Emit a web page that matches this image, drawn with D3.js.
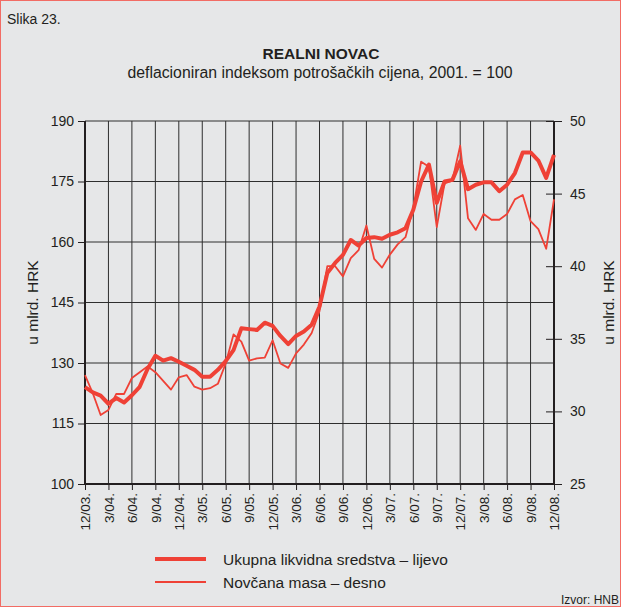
<!DOCTYPE html>
<html>
<head>
<meta charset="utf-8">
<script src="https://cdn.jsdelivr.net/npm/d3@7"></script>
<style>
  body { margin: 0; background: #e6e7e8; }
  svg { display: block; font-family: "Liberation Sans", Arial, sans-serif; }
</style>
</head>
<body>
<svg id="chart" width="621" height="607"></svg>
<script>
// Quarter labels on the x axis (every 3rd month, 12/03 .. 12/08)
const quarterLabels = ["12/03.", "3/04.", "6/04.", "9/04.", "12/04.", "3/05.", "6/05.", "9/05.",
  "12/05.", "3/06.", "6/06.", "9/06.", "12/06.", "3/07.", "6/07.", "9/07.", "12/07.",
  "3/08.", "6/08.", "9/08.", "12/08."];

// Ukupna likvidna sredstva (left axis), monthly
const ukupna = [124.0, 122.7, 121.9, 119.9, 121.3, 120.2, 122.0, 124.1, 128.5, 131.8,
  130.6, 131.2, 130.3, 129.3, 128.3, 126.6, 126.6, 128.3, 130.5, 133.2,
  138.6, 138.4, 138.2, 140.0, 139.2, 136.7, 134.7, 136.7, 137.8, 139.5,
  144.0, 152.3, 154.8, 156.8, 160.5, 159.1, 161.0, 161.2, 160.8, 161.8,
  162.4, 163.4, 168.0, 175.0, 179.2, 169.7, 175.0, 175.4, 180.0, 173.1,
  174.2, 174.8, 174.8, 172.6, 174.2, 177.1, 182.2, 182.2, 180.2, 175.9,
  181.6];

// Novčana masa (right axis), monthly
const novcana = [32.5, 31.25, 29.75, 30.1, 31.2, 31.2, 32.3, 32.7, 33.1, 32.7,
  32.1, 31.5, 32.35, 32.5, 31.7, 31.5, 31.6, 31.9, 33.3, 35.3,
  34.8, 33.5, 33.65, 33.7, 34.9, 33.3, 33.0, 34.0, 34.6, 35.4,
  36.9, 40.0, 40.0, 39.3, 40.55, 41.1, 42.8, 40.5, 39.9, 40.8,
  41.5, 42.0, 44.0, 47.2, 46.85, 42.7, 45.7, 45.9, 48.3, 43.3,
  42.5, 43.6, 43.2, 43.2, 43.6, 44.6, 44.9, 43.1, 42.55, 41.2,
  44.6];

const leftTicks = [100, 115, 130, 145, 160, 175, 190];
const rightTicks = [25, 30, 35, 40, 45, 50];

const red = "#ef4136";
const ink = "#231f20";

const svg = d3.select("#chart");

svg.append("rect")
  .attr("x", 0.5).attr("y", 0.5)
  .attr("width", 620).attr("height", 606)
  .attr("fill", "#e6e7e8")
  .attr("stroke", "#f26c64");

const plotL = 85, plotR = 554, plotT = 121, plotB = 484;

const x = d3.scaleLinear().domain([0, ukupna.length - 1]).range([plotL, plotR]);
const yL = d3.scaleLinear().domain([100, 190]).range([plotB, plotT]);
const yR = d3.scaleLinear().domain([25, 50]).range([plotB, plotT]);

// titles
svg.append("text").attr("x", 7).attr("y", 24)
  .attr("font-size", 14).attr("fill", ink).text("Slika 23.");
svg.append("text").attr("x", 321).attr("y", 59)
  .attr("text-anchor", "middle").attr("font-size", 15.5).attr("font-weight", "bold")
  .attr("fill", ink).text("REALNI NOVAC");
svg.append("text").attr("x", 320).attr("y", 78)
  .attr("text-anchor", "middle").attr("font-size", 15.8)
  .attr("fill", ink).text("deflacioniran indeksom potrošačkih cijena, 2001. = 100");

// grid
const grid = svg.append("g").attr("stroke", "#2e2e2e").attr("stroke-width", 1);
grid.selectAll("line.h")
  .data(leftTicks.slice(1))
  .join("line")
  .attr("class", "h")
  .attr("x1", plotL).attr("x2", plotR)
  .attr("y1", d => yL(d)).attr("y2", d => yL(d));
grid.selectAll("line.v")
  .data(d3.range(3, ukupna.length - 1, 3))
  .join("line")
  .attr("class", "v")
  .attr("x1", d => x(d)).attr("x2", d => x(d))
  .attr("y1", plotT).attr("y2", plotB);

// left axis
const gL = svg.append("g").attr("transform", `translate(${plotL},0)`)
  .call(d3.axisLeft(yL).tickValues(leftTicks).tickSize(7).tickPadding(4));
gL.select(".domain").remove();
gL.attr("font-family", null);
gL.selectAll("line").attr("stroke", ink);
gL.selectAll("text").attr("font-size", 14).attr("fill", ink);

// right axis
const gR = svg.append("g").attr("transform", `translate(${plotR},0)`)
  .call(d3.axisRight(yR).tickValues(rightTicks).tickSize(8).tickPadding(8));
gR.select(".domain").remove();
gR.attr("font-family", null);
gR.selectAll("line").attr("stroke", ink).attr("x1", -8);
gR.selectAll("text").attr("font-size", 14).attr("fill", ink);

// bottom axis
const gB = svg.append("g").attr("transform", `translate(0,${plotB})`)
  .call(d3.axisBottom(x).tickValues(d3.range(0, ukupna.length, 3))
    .tickFormat((d, i) => quarterLabels[i]).tickSize(6));
gB.select(".domain").remove();
gB.attr("font-family", null);
gB.selectAll("line").attr("stroke", ink);
gB.selectAll("text")
  .attr("font-size", 13.5).attr("fill", ink)
  .attr("text-anchor", "end")
  .attr("transform", "rotate(-90)")
  .attr("x", -9).attr("y", 0).attr("dy", "0.35em");

// frame lines
svg.append("line").attr("x1", plotL).attr("x2", plotL).attr("y1", plotT).attr("y2", plotB + 1)
  .attr("stroke", ink).attr("stroke-width", 2);
svg.append("line").attr("x1", plotR).attr("x2", plotR).attr("y1", plotT).attr("y2", plotB + 1)
  .attr("stroke", ink).attr("stroke-width", 2);
svg.append("line").attr("x1", plotL).attr("x2", plotR).attr("y1", plotB).attr("y2", plotB)
  .attr("stroke", ink).attr("stroke-width", 2);

// axis titles
svg.append("text").attr("transform", `translate(38,${(plotT + plotB) / 2}) rotate(-90)`)
  .attr("text-anchor", "middle").attr("font-size", 15.5).attr("fill", ink).text("u mlrd. HRK");
svg.append("text").attr("transform", `translate(614,${(plotT + plotB) / 2}) rotate(-90)`)
  .attr("text-anchor", "middle").attr("font-size", 15.5).attr("fill", ink).text("u mlrd. HRK");

// series
svg.append("path").datum(novcana)
  .attr("fill", "none").attr("stroke", red).attr("stroke-width", 1.8)
  .attr("stroke-linejoin", "round")
  .attr("d", d3.line().x((d, i) => x(i)).y(d => yR(d)));
svg.append("path").datum(ukupna)
  .attr("fill", "none").attr("stroke", red).attr("stroke-width", 4)
  .attr("stroke-linejoin", "round")
  .attr("d", d3.line().x((d, i) => x(i)).y(d => yL(d)));

// legend
const legend = [
  { name: "Ukupna likvidna sredstva – lijevo", w: 4 },
  { name: "Novčana masa – desno", w: 1.8 }
];
const lg = svg.append("g").selectAll("g").data(legend).join("g")
  .attr("transform", (d, i) => `translate(155,${559 + i * 23})`);
lg.append("line").attr("x1", 0).attr("x2", 51)
  .attr("stroke", red).attr("stroke-width", d => d.w);
lg.append("text").attr("x", 68).attr("y", 6)
  .attr("font-size", 15.5).attr("fill", ink).text(d => d.name);

svg.append("text").attr("x", 619).attr("y", 604)
  .attr("text-anchor", "end").attr("font-size", 12).attr("fill", ink).text("Izvor: HNB");
</script>
</body>
</html>
